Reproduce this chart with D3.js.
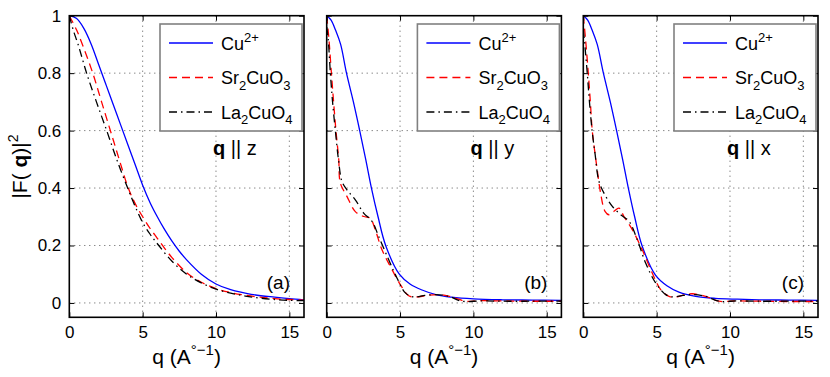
<!DOCTYPE html>
<html>
<head>
<meta charset="utf-8">
<script src="https://cdn.jsdelivr.net/npm/d3@7"></script>
<style>
body { margin: 0; background: #fff; }
svg { font-family: "Liberation Sans", Arial, sans-serif; }
</style>
</head>
<body>
<svg id="chart" width="830" height="377"></svg>
<script>
// form factors |F(q)|^2, [q, value]
var qTicks = [0, 5, 10, 15];
var vTicks = [0, 0.2, 0.4, 0.6, 0.8, 1];
var panelTags = ["(a)", "(b)", "(c)"];
var directions = ["z", "y", "x"];

var cuZ = [[0,1],[0.5,0.99],[1,0.955],[1.5,0.9],[2,0.83],[2.5,0.76],[3,0.69],[3.5,0.62],[4,0.55],[4.5,0.48],[5,0.41],[5.5,0.35],[6,0.3],[6.5,0.255],[7,0.215],[7.5,0.18],[8,0.15],[9,0.1],[10,0.066],[11,0.046],[12.4,0.03],[14,0.02],[15,0.015],[16,0.011]];
var srZ = [[0,1],[0.5,0.95],[1,0.885],[1.6,0.8],[2.2,0.7],[2.8,0.6],[3.4,0.5],[4.02,0.4],[4.5,0.345],[5,0.3],[5.5,0.26],[6,0.225],[6.5,0.19],[7,0.158],[8,0.105],[9,0.072],[10,0.05],[11,0.036],[12,0.027],[13,0.02],[14,0.015],[15,0.012],[16,0.01]];
var laZ = [[0,1],[0.27,0.95],[0.6,0.9],[1.18,0.8],[1.85,0.7],[2.55,0.6],[3.23,0.5],[3.98,0.4],[4.5,0.335],[5,0.28],[5.5,0.24],[6.1,0.2],[7,0.145],[8,0.1],[9,0.07],[10,0.048],[11,0.034],[12,0.024],[13,0.017],[14,0.012],[15,0.009],[16,0.008]];

var cuY = [[0,1],[0.3,0.985],[0.6,0.95],[0.95,0.9],[1.35,0.8],[1.82,0.7],[2.25,0.6],[2.66,0.5],[3.05,0.4],[3.5,0.3],[4.02,0.2],[4.95,0.1],[5.7,0.065],[6.5,0.045],[7.5,0.028],[8.5,0.02],[10,0.014],[12,0.011],[14,0.01],[16,0.009]];
var srY = [[0,1],[0.15,0.92],[0.32,0.8],[0.47,0.7],[0.63,0.6],[0.82,0.5],[0.93,0.417],[1.38,0.371],[1.95,0.318],[2.52,0.301],[2.97,0.295],[3.31,0.255],[3.77,0.185],[4.34,0.127],[5.02,0.064],[5.59,0.025],[6.16,0.021],[6.9,0.027],[7.64,0.029],[8.3,0.024],[8.77,0.017],[9.45,0.006],[10.5,0.008],[12,0.007],[13.5,0.006],[16,0.006]];
var laY = [[0,0.96],[0.1,0.92],[0.25,0.8],[0.4,0.7],[0.59,0.6],[0.8,0.5],[1.04,0.423],[1.38,0.394],[1.95,0.359],[2.52,0.313],[3.09,0.284],[3.54,0.232],[4.22,0.151],[4.79,0.087],[5.36,0.035],[5.93,0.021],[6.7,0.026],[7.41,0.029],[8.32,0.023],[9.22,0.006],[10.5,0.007],[12,0.006],[14,0.006],[16,0.006]];

var cuX = [[0,1],[0.3,0.985],[0.6,0.95],[0.95,0.9],[1.37,0.8],[1.84,0.7],[2.27,0.6],[2.68,0.5],[3.07,0.4],[3.5,0.3],[4.0,0.2],[4.93,0.096],[5.7,0.06],[6.52,0.038],[7.66,0.023],[9,0.016],[10.5,0.013],[12,0.011],[14,0.01],[16,0.009]];
var srX = [[0,1],[0.15,0.92],[0.34,0.8],[0.48,0.7],[0.61,0.6],[0.8,0.52],[0.95,0.463],[1.18,0.382],[1.48,0.319],[1.75,0.307],[2.09,0.319],[2.43,0.33],[2.77,0.301],[3.34,0.255],[4.02,0.185],[4.7,0.104],[5.28,0.046],[5.84,0.023],[6.3,0.021],[6.9,0.028],[7.43,0.032],[8.34,0.023],[9.25,0.006],[10.5,0.007],[12,0.006],[14,0.005],[16,0.005]];
var laX = [[0,0.95],[0.1,0.9],[0.27,0.8],[0.42,0.7],[0.6,0.6],[0.8,0.52],[1.07,0.423],[1.53,0.371],[1.98,0.336],[2.55,0.307],[3.12,0.284],[3.68,0.22],[4.25,0.139],[4.93,0.07],[5.62,0.029],[6.07,0.021],[6.8,0.026],[7.43,0.029],[8.34,0.023],[9.25,0.006],[10.5,0.007],[12,0.006],[14,0.006],[16,0.006]];

var panelData = [[cuZ, srZ, laZ], [cuY, srY, laY], [cuX, srX, laX]];

// legend names as pieces: [text, "sup"|"sub"|""]
var legendNames = [
  [["Cu",""],["2+","sup"]],
  [["Sr",""],["2","sub"],["CuO",""],["3","sub"]],
  [["La",""],["2","sub"],["CuO",""],["4","sub"]]
];
var lineColors = ["#0000ff", "#ff0000", "#000000"];
var lineDash = [null, "8,5", "8,4,1.5,4"];

var svg = d3.select("#chart");
var lefts = [69.3, 326.7, 583.3];
var pw = 234.7, plotTop = 15.7, plotBottom = 317.3;

var y = d3.scaleLinear().domain([-0.05, 1]).range([plotBottom, plotTop]);

function rich(textSel, parts, small, up) {
  var shift = 0;
  parts.forEach(function(p) {
    var want = p[1] == "sup" ? -up : (p[1] == "sub" ? 5.5 : 0);
    var ts = textSel.append("tspan").attr("dy", want - shift).text(p[0]);
    if (p[1]) ts.attr("font-size", small);
    if (p[2]) ts.attr("font-weight", "bold");
    shift = want;
  });
}

lefts.forEach(function(left, pi) {
  var x = d3.scaleLinear().domain([0, 16]).range([left, left + pw]);
  var g = svg.append("g");

  g.append("clipPath").attr("id", "clip" + pi)
    .append("rect").attr("x", left).attr("y", plotTop).attr("width", pw).attr("height", plotBottom - plotTop);

  // dotted grid
  g.selectAll(".gx").data(qTicks.filter(function(d) { return d > 0; })).enter().append("line")
    .attr("x1", function(d) { return x(d); }).attr("x2", function(d) { return x(d); })
    .attr("y1", plotTop).attr("y2", plotBottom)
    .attr("stroke", "#444").attr("stroke-width", 0.9).attr("stroke-dasharray", "1,4");
  g.selectAll(".gy").data(vTicks.filter(function(d) { return d < 1; })).enter().append("line")
    .attr("x1", left).attr("x2", left + pw)
    .attr("y1", function(d) { return y(d); }).attr("y2", function(d) { return y(d); })
    .attr("stroke", "#444").attr("stroke-width", 0.9).attr("stroke-dasharray", "1,4");

  // curves
  var line = d3.line()
    .curve(d3.curveCatmullRom.alpha(0.5))
    .x(function(d) { return x(d[0]); })
    .y(function(d) { return y(d[1]); });

  var cg = g.append("g").attr("clip-path", "url(#clip" + pi + ")");
  panelData[pi].forEach(function(series, si) {
    cg.append("path")
      .attr("d", line(series))
      .attr("fill", "none")
      .attr("stroke", lineColors[si])
      .attr("stroke-width", 1.3)
      .attr("stroke-dasharray", lineDash[si]);
  });

  // axes with inward ticks on all four sides
  var ax = g.append("g").attr("transform", "translate(0," + plotBottom + ")")
    .call(d3.axisBottom(x).tickValues(qTicks).tickSizeInner(-5).tickSizeOuter(0).tickPadding(9));
  var axTop = g.append("g").attr("transform", "translate(0," + plotTop + ")")
    .call(d3.axisTop(x).tickValues(qTicks).tickSizeInner(-5).tickSizeOuter(0).tickFormat(""));
  var ay = g.append("g").attr("transform", "translate(" + left + ",0)")
    .call(d3.axisLeft(y).tickValues(vTicks).tickSizeInner(-5).tickSizeOuter(0).tickPadding(8)
      .tickFormat(pi == 0 ? d3.format("") : ""));
  var ayR = g.append("g").attr("transform", "translate(" + (left + pw) + ",0)")
    .call(d3.axisRight(y).tickValues(vTicks).tickSizeInner(-5).tickSizeOuter(0).tickFormat(""));
  [ax, axTop, ay, ayR].forEach(function(a) {
    a.select(".domain").remove();
    a.selectAll("line").attr("stroke", "#000").attr("stroke-width", 1);
    a.selectAll("text").attr("font-size", 17).attr("fill", "#000")
      .attr("font-family", "Liberation Sans, Arial, sans-serif");
  });

  g.append("rect").attr("x", left).attr("y", plotTop).attr("width", pw).attr("height", plotBottom - plotTop)
    .attr("fill", "none").attr("stroke", "#000").attr("stroke-width", 1.6);

  // legend
  var lx = left + 90.7, ly = 24, lw = 142, lh = 107;
  var lg = g.append("g");
  lg.append("rect").attr("x", lx).attr("y", ly).attr("width", lw).attr("height", lh)
    .attr("fill", "#fff").attr("stroke", "#808080").attr("stroke-width", 1.6);
  legendNames.forEach(function(name, si) {
    var yy = ly + 19 + si * 34.5;
    lg.append("line").attr("x1", lx + 9).attr("x2", lx + 53).attr("y1", yy).attr("y2", yy)
      .attr("stroke", lineColors[si]).attr("stroke-width", 1.3).attr("stroke-dasharray", lineDash[si]);
    var t = lg.append("text").attr("x", lx + 61).attr("y", yy + 6.5).attr("font-size", 18).attr("fill", "#000");
    rich(t, name, 13, 7.5);
  });

  // direction note and panel tag
  var note = g.append("text").attr("x", x(9.8)).attr("y", 155).attr("font-size", 20).attr("fill", "#000");
  note.append("tspan").attr("font-weight", "bold").text("q");
  note.append("tspan").text(" || " + directions[pi]);

  g.append("text").attr("x", left + pw - 14).attr("y", 289).attr("text-anchor", "end")
    .attr("font-size", 19).attr("fill", "#000").text(panelTags[pi]);

  // x axis title
  var xt = g.append("text").attr("x", left + pw / 2).attr("y", 364).attr("text-anchor", "middle")
    .attr("font-size", 21).attr("fill", "#000");
  rich(xt, [["q (A",""],["\u00b0\u22121","sup"],[")",""]], 15, 9.5);
});

// y axis title
var yt = svg.append("text")
  .attr("transform", "translate(27," + ((plotTop + plotBottom) / 2) + ") rotate(-90)")
  .attr("text-anchor", "middle").attr("font-size", 21).attr("fill", "#000");
rich(yt, [["|F( ",""],["q","","b"],[")|",""],["2","sup"]], 14, 9);
</script>
</body>
</html>
